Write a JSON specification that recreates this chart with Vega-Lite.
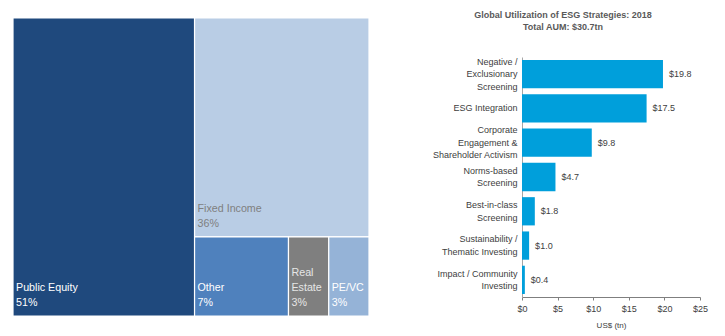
{
  "$schema": "https://vega.github.io/schema/vega-lite/v6.json",
  "padding": {"left": 12, "top": 10, "right": 5, "bottom": 5},
  "background": "white",
  "config": {
    "font": "Liberation Sans",
    "view": {"stroke": null},
    "concat": {"spacing": 61}
  },
  "hconcat": [
    {
      "width": 356,
      "height": 298,
      "data": {
        "values": [
          {"asset": "Public Equity", "share": 0.51, "col": "left", "grp": "main", "ord": 1},
          {"asset": "Fixed Income", "share": 0.36, "col": "right", "grp": "top", "ord": 2},
          {"asset": "Other", "share": 0.07, "col": "right", "grp": "bottom", "ord": 3},
          {"asset": "Real Estate", "share": 0.03, "col": "right", "grp": "bottom", "ord": 4},
          {"asset": "PE/VC", "share": 0.03, "col": "right", "grp": "bottom", "ord": 5}
        ]
      },
      "transform": [
        {"joinaggregate": [{"op": "sum", "field": "share", "as": "total"}]},
        {"joinaggregate": [{"op": "sum", "field": "share", "as": "colSum"}], "groupby": ["col"]},
        {"joinaggregate": [{"op": "sum", "field": "share", "as": "grpSum"}], "groupby": ["grp"]},
        {"stack": "share", "groupby": ["grp"], "sort": [{"field": "ord", "order": "ascending"}], "offset": "normalize", "as": ["s0", "s1"]},
        {"calculate": "datum.col == 'left' ? 0 : datum.total - datum.colSum", "as": "off"},
        {"calculate": "datum.off + datum.s0 * datum.colSum", "as": "x0"},
        {"calculate": "datum.off + datum.s1 * datum.colSum", "as": "x1"},
        {"calculate": "datum.grp == 'bottom' ? 1 - datum.grpSum / datum.colSum : 0", "as": "y0"},
        {"calculate": "datum.grp == 'top' ? datum.grpSum / datum.colSum : 1", "as": "y1"},
        {"calculate": "datum.x1 - datum.x0 < 0.15 ? split(datum.asset + ' ' + format(datum.share, '.0%'), ' ') : [datum.asset, format(datum.share, '.0%')]", "as": "label"}
      ],
      "encoding": {
        "x": {"field": "x0", "type": "quantitative", "scale": {"domain": [0, 1], "nice": false, "zero": false}, "axis": null},
        "y": {"field": "y1", "type": "quantitative", "scale": {"domain": [0, 1], "nice": false, "zero": false, "reverse": true}, "axis": null}
      },
      "layer": [
        {
          "mark": {"type": "rect", "stroke": "white", "strokeWidth": 1.2},
          "encoding": {
            "x2": {"field": "x1"},
            "y": {"field": "y0", "type": "quantitative"},
            "y2": {"field": "y1"},
            "color": {
              "field": "asset",
              "type": "nominal",
              "scale": {
                "domain": ["Public Equity", "Fixed Income", "Other", "Real Estate", "PE/VC"],
                "range": ["#1F497D", "#B9CDE5", "#4F81BD", "#7F7F7F", "#95B3D7"]
              },
              "legend": null
            }
          }
        },
        {
          "mark": {"type": "text", "align": "left", "baseline": "bottom", "dx": 3, "dy": {"expr": "-8 - (length(datum.label) - 1) * 15"}, "fontSize": 10.7, "lineHeight": 15},
          "encoding": {
            "text": {"field": "label"},
            "color": {
              "condition": [
                {"test": "datum.asset == 'Fixed Income'", "value": "#7F7F7F"},
                {"test": "datum.asset == 'Real Estate'", "value": "#E6E6E6"}
              ],
              "value": "#FFFFFF"
            }
          }
        }
      ]
    },
    {
      "spacing": 25,
      "vconcat": [
        {
          "width": 178,
          "height": 1,
          "data": {"values": [{"heading": "Global Utilization of ESG Strategies: 2018\nTotal AUM: $30.7tn"}]},
          "mark": {"type": "text", "align": "center", "baseline": "middle", "dx": -48, "dy": -4, "fontSize": 9, "fontWeight": "bold", "color": "#595959", "lineHeight": 12.5, "lineBreak": "\n"},
          "encoding": {"text": {"field": "heading"}}
        },
        {
          "width": 178,
          "height": 240,
          "data": {
            "values": [
              {"strategy": "Negative /\nExclusionary\nScreening", "aum": 19.8},
              {"strategy": "ESG Integration", "aum": 17.5},
              {"strategy": "Corporate\nEngagement &\nShareholder Activism", "aum": 9.8},
              {"strategy": "Norms-based\nScreening", "aum": 4.7},
              {"strategy": "Best-in-class\nScreening", "aum": 1.8},
              {"strategy": "Sustainability /\nThematic Investing", "aum": 1.0},
              {"strategy": "Impact / Community\nInvesting", "aum": 0.4}
            ]
          },
          "encoding": {
            "y": {
              "field": "strategy",
              "type": "nominal",
              "sort": null,
              "scale": {"paddingInner": 0.176, "paddingOuter": 0.088},
              "axis": {
                "title": null,
                "ticks": false,
                "domainColor": "#A6A6A6",
                "labelPadding": 5,
                "labelFontSize": 9,
                "labelLineHeight": 12.5,
                "labelColor": "#404040",
                "labelExpr": "split(datum.value, '\\n')",
                "labelOffset": {"expr": "-(length(split(datum.value, '\\n')) - 1) * 6.25"}
              }
            },
            "x": {
              "field": "aum",
              "type": "quantitative",
              "scale": {"domain": [0, 25], "nice": false},
              "axis": {
                "title": "US$ (tn)",
                "values": [0, 5, 10, 15, 20, 25],
                "format": "$.0f",
                "grid": false,
                "labelFlush": false,
                "labelOverlap": false,
                "domainColor": "#7F7F7F",
                "tickColor": "#7F7F7F",
                "tickSize": 3,
                "labelPadding": 4,
                "labelFontSize": 9,
                "labelColor": "#404040",
                "titleFontSize": 8,
                "titleFontWeight": "normal",
                "titleColor": "#404040",
                "titlePadding": 8
              }
            }
          },
          "layer": [
            {"mark": {"type": "bar", "color": "#009FDB"}},
            {
              "mark": {"type": "text", "align": "left", "baseline": "middle", "dx": 6, "fontSize": 9, "color": "#404040"},
              "encoding": {"text": {"field": "aum", "type": "quantitative", "format": "$.1f"}}
            }
          ]
        }
      ]
    }
  ]
}
